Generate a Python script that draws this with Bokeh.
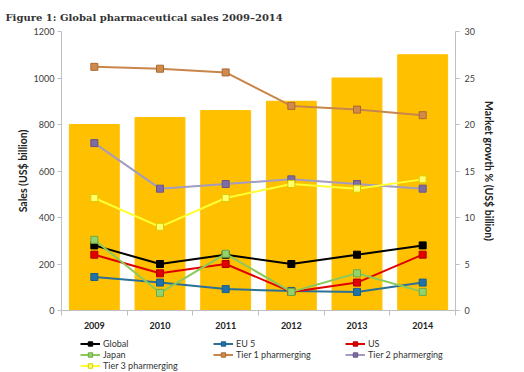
from bokeh.plotting import figure
from bokeh.layouts import column
from bokeh.models import (Range1d, LinearAxis, FixedTicker, Legend, LegendItem, Title)
from bokeh.embed import file_html
from bokeh.resources import INLINE

years = ["2009", "2010", "2011", "2012", "2013", "2014"]
sales = [800, 830, 860, 900, 1000, 1100]

global_g = [7.0, 5.0, 6.0, 5.0, 6.0, 7.0]
eu5 = [3.6, 3.0, 2.3, 2.1, 2.0, 3.0]
us = [6.0, 4.0, 5.0, 2.0, 3.0, 6.0]
japan = [7.6, 1.9, 6.1, 2.0, 4.0, 2.0]
tier1 = [26.2, 26.0, 25.6, 22.0, 21.6, 21.0]
tier2 = [18.0, 13.1, 13.6, 14.1, 13.6, 13.1]
tier3 = [12.1, 9.0, 12.1, 13.6, 13.1, 14.1]

series = [
    ("Global", global_g, "#000000", "#000000", "#000000"),
    ("EU 5", eu5, "#2B7096", "#1F73A8", "#1A5F8A"),
    ("US", us, "#E00000", "#E00000", "#B00000"),
    ("Japan", japan, "#8CC95A", "#92D36E", "#6FA845"),
    ("Tier 1 pharmerging", tier1, "#C8864A", "#D28A4C", "#A86A34"),
    ("Tier 2 pharmerging", tier2, "#A39CC0", "#7E6CA3", "#66568A"),
    ("Tier 3 pharmerging", tier3, "#FFFF33", "#FFFF70", "#D8CC00"),
]

xs = list(range(1, len(years) + 1))

FONT = "Lato"
p = figure(width=524, height=335, output_backend="svg", toolbar_location=None,
           x_range=Range1d(0.5, len(years) + 0.5), y_range=Range1d(0, 1200),
           min_border_left=61, min_border_right=69, min_border_top=31, min_border_bottom=25,
           x_axis_location=None, y_axis_location=None)
p.outline_line_color = None
p.xgrid.visible = False
p.ygrid.visible = False
p.background_fill_color = "white"
p.border_fill_color = "white"

p.title = Title(text="Figure 1: Global pharmaceutical sales 2009\u20132014",
                text_font="DejaVu Serif", text_font_size="10px", text_font_style="bold",
                text_color="#333333", offset=-56, standoff=18)

p.extra_y_ranges = {"growth": Range1d(0, 30)}

p.vbar(x=xs, top=sales, width=0.76, color="#FFC000")

AX = "#BFBFBF"

ya = LinearAxis(ticker=FixedTicker(ticks=[0, 200, 400, 600, 800, 1000, 1200]))
ya.axis_label = "Sales (US$ billion)"
ya.axis_label_text_font = FONT
ya.axis_label_text_font_size = "10.5px"
ya.axis_label_text_font_style = "bold"
ya.axis_label_text_color = "#222222"
ya.axis_label_standoff = 2
ya.major_label_standoff = 3
ya.major_label_text_font = FONT
ya.major_label_text_font_size = "9px"
ya.major_label_text_color = "#404040"
ya.axis_line_color = AX
ya.major_tick_line_color = AX
ya.major_tick_in = 0
ya.major_tick_out = 4
ya.minor_tick_line_color = None
p.add_layout(ya, "left")

ra = LinearAxis(y_range_name="growth", ticker=FixedTicker(ticks=[0, 5, 10, 15, 20, 25, 30]))
ra.axis_label = "Market growth % (US$ billion)"
ra.axis_label_text_font = FONT
ra.axis_label_text_font_size = "10.5px"
ra.axis_label_text_font_style = "bold"
ra.axis_label_text_color = "#222222"
ra.axis_label_standoff = 5
ra.major_label_standoff = 5
ra.major_label_text_font = FONT
ra.major_label_text_font_size = "9px"
ra.major_label_text_color = "#404040"
ra.axis_line_color = AX
ra.major_tick_line_color = AX
ra.major_tick_in = 0
ra.major_tick_out = 4
ra.minor_tick_line_color = None
p.add_layout(ra, "right")

xa = LinearAxis(ticker=FixedTicker(ticks=xs, minor_ticks=[x - 0.5 for x in xs] + [len(xs) + 0.5]))
xa.major_label_overrides = {x: y for x, y in zip(xs, years)}
xa.major_label_text_font = FONT
xa.major_label_text_font_size = "9px"
xa.major_label_text_font_style = "bold"
xa.major_label_text_color = "#222222"
xa.major_label_standoff = 5
xa.axis_line_color = AX
xa.major_tick_line_color = None
xa.minor_tick_line_color = AX
xa.minor_tick_in = 0
xa.minor_tick_out = 5
p.add_layout(xa, "below")

# legend strip beneath the chart (its ranges keep its own copies of the series off-view)
q = figure(width=524, height=37, output_backend="svg", toolbar_location=None,
           x_range=Range1d(-10, -9), y_range=Range1d(-10, -9),
           min_border_left=61, min_border_right=69, min_border_top=0, min_border_bottom=0,
           x_axis_location=None, y_axis_location=None)
q.outline_line_color = None
q.xgrid.visible = False
q.ygrid.visible = False

items = {}
for name, vals, lc, fc, ec in series:
    p.line(xs, vals, y_range_name="growth", line_color=lc, line_width=2)
    p.scatter(xs, vals, y_range_name="growth", marker="square", size=7,
              fill_color=fc, line_color=ec, line_width=1)
    k1 = q.line(xs, vals, line_color=lc, line_width=2)
    k2 = q.scatter(xs, vals, marker="square", size=7, fill_color=fc, line_color=ec, line_width=1)
    items[name] = LegendItem(label=name, renderers=[k1, k2])

cols = [
    (["Global", "Japan", "Tier 3 pharmerging"], 19, 1),
    (["EU 5", "Tier 1 pharmerging"], 152, 12),
    (["US", "Tier 2 pharmerging"], 284, 12),
]
for names, vx, vy in cols:
    lg = Legend(items=[items[n] for n in names], location=(vx, vy),
                orientation="vertical", spacing=0, padding=0, margin=0,
                glyph_width=20, glyph_height=11, label_height=11,
                label_standoff=3, label_text_font=FONT, label_text_font_size="9px",
                label_text_color="#333333", border_line_color=None,
                background_fill_alpha=0)
    q.add_layout(lg, "center")

open("out.html", "w").write(file_html(column(p, q, spacing=0), INLINE))
